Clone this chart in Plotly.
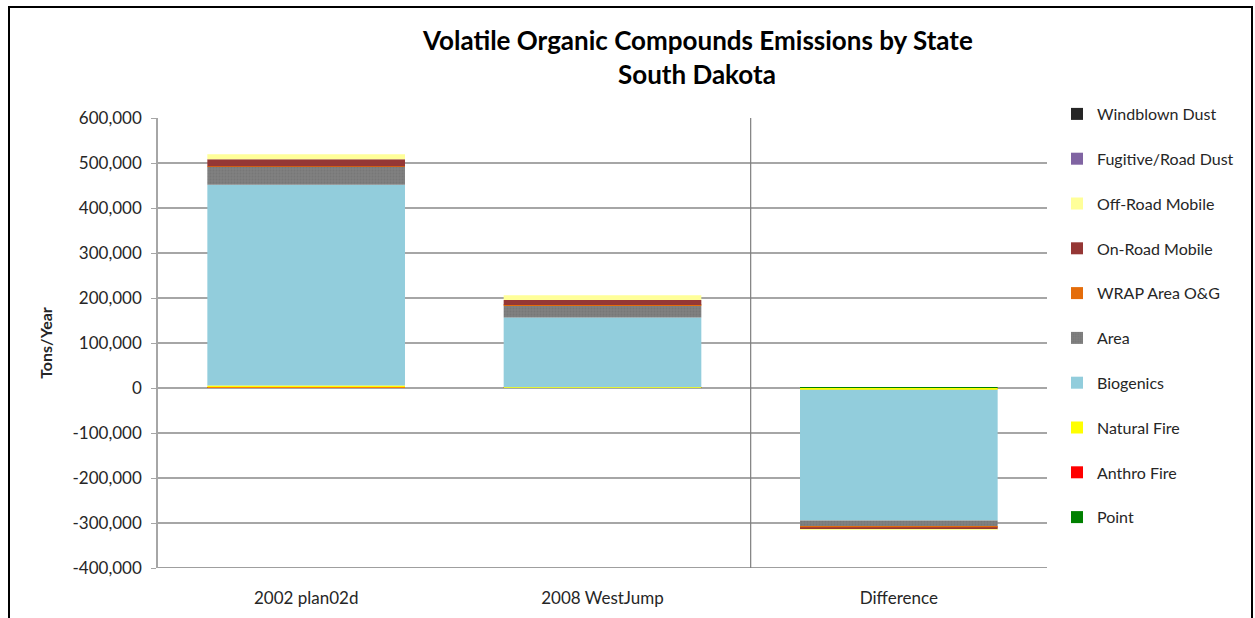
import plotly.graph_objects as go

# Scenarios shown on the category axis
categories = ["2002 plan02d", "2008 WestJump", "Difference"]

# VOC emissions by source sector (tons/year), stacked bottom-up in this order
point = [300, 350, 50]
anthro_fire = [600, 400, -200]
natural_fire = [4500, 1000, -3500]
biogenics = [446000, 155000, -291000]
area = [41000, 27000, -14000]
wrap_area_og = [300, 800, -500]
on_road_mobile = [15500, 11000, -4500]
off_road_mobile = [11000, 10500, -500]
fugitive_road_dust = [0, 0, 0]
windblown_dust = [0, 0, 0]

y_ticks = [600000, 500000, 400000, 300000, 200000, 100000, 0,
           -100000, -200000, -300000, -400000]
y_tick_labels = ["600,000", "500,000", "400,000", "300,000", "200,000", "100,000", "0",
                 "-100,000", "-200,000", "-300,000", "-400,000"]

series = [
    ("Point", point, "#008000", None),
    ("Anthro Fire", anthro_fire, "#FF0000", None),
    ("Natural Fire", natural_fire, "#FFFF00", None),
    ("Biogenics", biogenics, "#92CDDC", None),
    ("Area", area, "#808080", "."),
    ("WRAP Area O&G", wrap_area_og, "#E46C0A", None),
    ("On-Road Mobile", on_road_mobile, "#953735", None),
    ("Off-Road Mobile", off_road_mobile, "#FFFF99", None),
    ("Fugitive/Road Dust", fugitive_road_dust, "#8064A2", None),
    ("Windblown Dust", windblown_dust, "#262626", None),
]

FONT = "Lato, 'Open Sans', sans-serif"

fig = go.Figure()
for i, (name, vals, color, pattern) in enumerate(series):
    marker = dict(color=color, line=dict(width=0))
    if pattern:
        marker["pattern"] = dict(shape=pattern, fgcolor="#6E6E6E", bgcolor=color,
                                 size=3, solidity=0.3)
    fig.add_trace(go.Bar(
        x=categories, y=vals, name=name, marker=marker,
        legendgroup=f"g{i}",
        legendrank=1000 - i,  # top of the stack listed first
    ))

W, H = 1255, 618
L, R, T, B = 158, 208, 118, 50
pw, ph = W - L - R, H - T - B


def px_x(x):
    return (x - L) / pw


def px_y(y):
    return (H - B - y) / ph


fig.update_layout(
    width=W, height=H,
    margin=dict(l=L, r=R, t=T, b=B, autoexpand=False),
    barmode="relative",
    bargap=0.333,
    plot_bgcolor="white",
    paper_bgcolor="white",
    font=dict(family=FONT, size=17, color="#262626"),
    showlegend=True,
    legend=dict(
        traceorder="grouped",
        x=px_x(1057), y=px_y(97), xanchor="left", yanchor="top",
        font=dict(family=FONT, size=16, color="#262626"),
        tracegroupgap=21,
        itemwidth=30,
        maxheight=600,
        bgcolor="rgba(0,0,0,0)",
    ),
    xaxis=dict(
        showgrid=False, showline=False, ticks="",
        tickfont=dict(size=17), ticklabelstandoff=18,
    ),
    yaxis=dict(
        range=[-400000, 600000],
        tickvals=y_ticks, ticktext=y_tick_labels,
        showgrid=True, gridcolor="#A6A6A6", gridwidth=1.5,
        zeroline=True, zerolinecolor="#A6A6A6", zerolinewidth=1.5,
        showline=True, linecolor="#A6A6A6", linewidth=1.5,
        ticks="outside", ticklen=5, tickcolor="#A6A6A6",
        tickfont=dict(size=17), ticklabelstandoff=6,
        title=dict(text="<b>Tons/Year</b>", font=dict(size=16), standoff=16),
    ),
    annotations=[
        dict(text="<b>Volatile Organic Compounds Emissions by State</b>",
             x=px_x(697), y=px_y(40), xref="paper", yref="paper",
             xanchor="center", yanchor="middle", showarrow=False,
             font=dict(family=FONT, size=26, color="#000000")),
        dict(text="<b>South Dakota</b>",
             x=px_x(697), y=px_y(74), xref="paper", yref="paper",
             xanchor="center", yanchor="middle", showarrow=False,
             font=dict(family=FONT, size=26, color="#000000")),
    ],
    shapes=[
        # outer chart border
        dict(type="rect", xref="paper", yref="paper",
             x0=px_x(9), x1=px_x(1252), y0=px_y(640), y1=px_y(7),
             line=dict(color="#000000", width=2), fillcolor="rgba(0,0,0,0)"),
        # bottom axis line
        dict(type="line", xref="paper", yref="y", x0=0, x1=1, y0=-400000, y1=-400000,
             line=dict(color="#7F7F7F", width=1.5)),
        # divider before the difference column
        dict(type="line", xref="x", yref="paper", x0=1.5, x1=1.5, y0=0, y1=1,
             line=dict(color="#7F7F7F", width=1.2)),
    ],
)

fig.write_html("out.html")
